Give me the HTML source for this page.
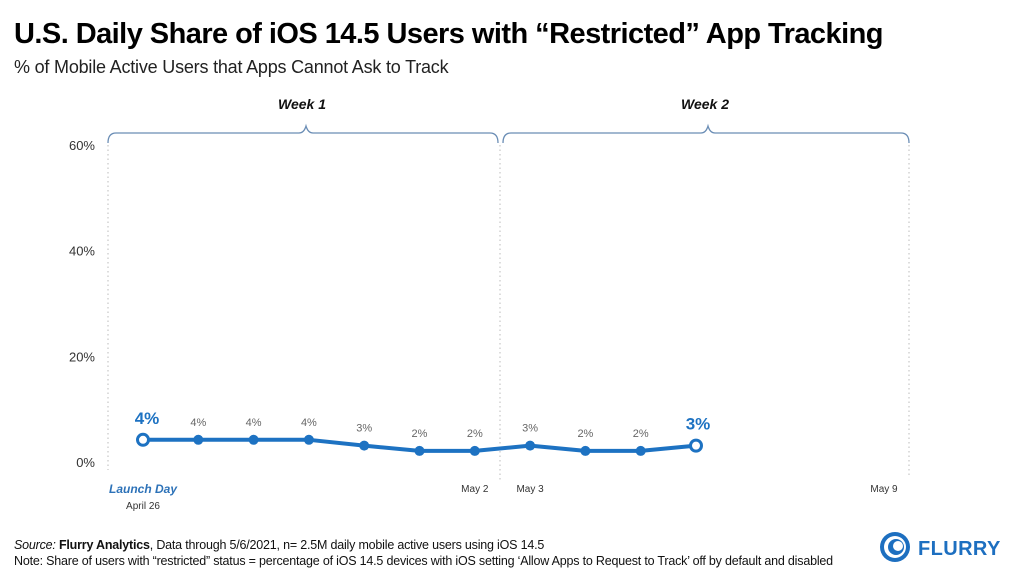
<!DOCTYPE html>
<html><head><meta charset="utf-8"><style>
body{margin:0;width:1024px;height:576px;background:#fff;overflow:hidden;font-family:"Liberation Sans",sans-serif}
svg{display:block}
</style></head><body>
<svg id="chart" width="1024" height="576">
<text x="14" y="43" font-size="29" font-weight="bold" fill="#000" letter-spacing="-0.55">U.S. Daily Share of iOS 14.5 Users with “Restricted” App Tracking</text>
<text x="14" y="73" font-size="18" fill="#222" letter-spacing="-0.2">% of Mobile Active Users that Apps Cannot Ask to Track</text>
<text x="302" y="109" font-size="14" font-weight="bold" font-style="italic" text-anchor="middle" fill="#111">Week 1</text>
<text x="705" y="109" font-size="14" font-weight="bold" font-style="italic" text-anchor="middle" fill="#111">Week 2</text>
<path d="M108,143 Q108,133 116,133 L299,133 Q304,133 306,126 Q308,133 313,133 L490,133 Q498,133 498,143" fill="none" stroke="#6a8db5" stroke-width="1.3"/>
<path d="M503,143 Q503,133 511,133 L701,133 Q706,133 708,126 Q710,133 715,133 L901,133 Q909,133 909,143" fill="none" stroke="#6a8db5" stroke-width="1.3"/>
<line x1="108" y1="145" x2="108" y2="470" stroke="#bbb" stroke-dasharray="1.5,3"/>
<line x1="500" y1="145" x2="500" y2="480" stroke="#bbb" stroke-dasharray="1.5,3"/>
<line x1="909" y1="145" x2="909" y2="478" stroke="#bbb" stroke-dasharray="1.5,3"/>
<g id="yaxis"></g>
<g id="series"></g>
<text x="143" y="493" font-size="12" font-weight="bold" font-style="italic" text-anchor="middle" fill="#2d72b8">Launch Day</text>
<text x="143" y="509" font-size="10" text-anchor="middle" fill="#333">April 26</text>
<text x="14" y="549" font-size="12.5" fill="#111" letter-spacing="-0.2"><tspan font-style="italic">Source:</tspan> <tspan font-weight="bold">Flurry Analytics</tspan>, Data through 5/6/2021, n= 2.5M daily mobile active users using iOS 14.5</text>
<text x="14" y="565" font-size="12.5" fill="#111" letter-spacing="-0.2">Note: Share of users with “restricted” status = percentage of iOS 14.5 devices with iOS setting ‘Allow Apps to Request to Track’ off by default and disabled</text>
<g>
<circle cx="895" cy="547" r="15" fill="#1d6fc0"/>
<circle cx="895" cy="547" r="11" fill="#fff"/>
<circle cx="896" cy="547" r="8" fill="#1d6fc0"/>
<circle cx="898" cy="546" r="5" fill="#fff"/>
<text x="918" y="555" font-size="20" font-weight="bold" fill="#1d6fc0" letter-spacing="0.4">FLURRY</text>
</g>
</svg>
<script>
const yTicks=[0,20,40,60];
const yTickLabels=["0%","20%","40%","60%"];
const dayIndex=[0,1,2,3,4,5,6,7,8,9,10];
const values=[4.2,4.2,4.2,4.2,3.1,2.1,2.1,3.1,2.1,2.1,3.1];
const valueLabels=["4%","4%","4%","4%","3%","2%","2%","3%","2%","2%","3%"];
const dateLabels=["May 2","May 3","May 9"];
const dateIdx=[6,7,13.4];
const NS="http://www.w3.org/2000/svg";
function x(i){return 143+55.3*i;}
function y(v){return 462-v*(317/60);}
function mk(tag,attrs,parent){const e=document.createElementNS(NS,tag);for(const k in attrs)e.setAttribute(k,attrs[k]);parent.appendChild(e);return e;}
const ya=document.getElementById('yaxis');
yTicks.forEach((t,i)=>{
 const el=mk('text',{x:95,y:y(t)+5,'font-size':13,'text-anchor':'end',fill:'#333'},ya);
 el.textContent=yTickLabels[i];
 
 
});
const s=document.getElementById('series');
const line=mk('polyline',{points:dayIndex.map((d,i)=>x(d)+','+y(values[i])).join(' '),fill:'none',stroke:'#1d72c2','stroke-width':4,'stroke-linejoin':'round'},s);


dayIndex.forEach((d,i)=>{
 const last=i===0||i===dayIndex.length-1;
 const c=mk('circle',last?{cx:x(d),cy:y(values[i]),r:5.5,fill:'#fff',stroke:'#1d72c2','stroke-width':3}:{cx:x(d),cy:y(values[i]),r:5,fill:'#1d72c2'},s);
 
 
 const t=mk('text',last?{x:x(d)+(i===0?4:2),y:y(values[i])-16,'font-size':17,'font-weight':'bold','text-anchor':'middle',fill:'#1d72c2'}:{x:x(d),y:y(values[i])-14,'font-size':11,'text-anchor':'middle',fill:'#666'},s);
 t.textContent=valueLabels[i];
 
 
});
dateLabels.forEach((l,i)=>{
 const t=mk('text',{x:x(dateIdx[i]),y:492,'font-size':10,'text-anchor':'middle',fill:'#333'},s);
 t.textContent=l;
 
 
});
</script>
</body></html>
